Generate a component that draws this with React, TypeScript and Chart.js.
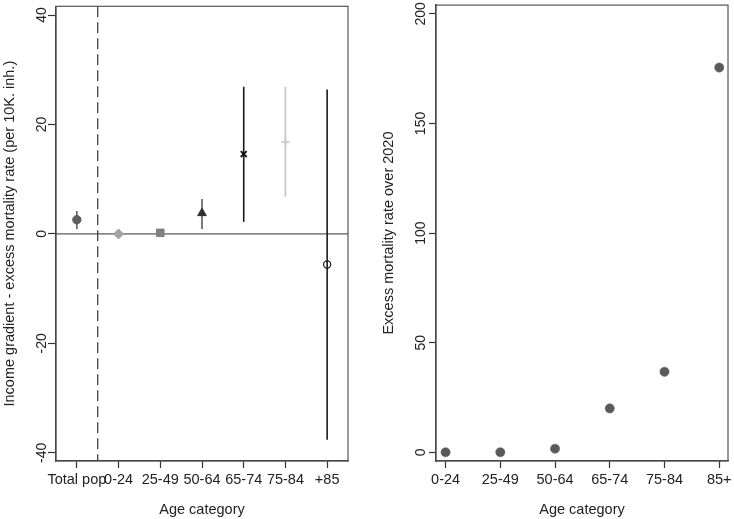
import React, { useEffect, useRef } from "react";
import { Chart, registerables } from "chart.js";

Chart.register(...registerables);

// ---------- Data ----------
const leftCategories = ["Total pop", "0-24", "25-49", "50-64", "65-74", "75-84", "+85"];
const leftEstimates = [2.6, 0, 0.2, 3.8, 14.6, 16.8, -5.6];
const leftLower = [0.9, -0.3, -0.1, 0.9, 2.2, 6.8, -37.6];
const leftUpper = [4.2, 0.3, 0.5, 6.4, 26.9, 26.9, 26.4];
const leftYTicks = [-40, -20, 0, 20, 40];

const rightCategories = ["0-24", "25-49", "50-64", "65-74", "75-84", "85+"];
const rightValues = [0, 0, 1.6, 20, 36.7, 175.5];
const rightYTicks = [0, 50, 100, 150, 200];

// ---------- Styles ----------
const FONT = "'Liberation Sans', Arial, Helvetica, sans-serif";
const TEXT = "#222222";
const AXIS = "#333333";
const TICK_SIZE = 14.5;
const leftPointStyles = ["circle", "rectRot", "rect", "triangle", "crossRot", "cross", "circle"];
const leftPointColors = ["#5f5f5f", "#a3a3a3", "#808080", "#303030", "#111111", "#c4c4c4", "#1a1a1a"];
const leftPointFill = ["#5f5f5f", "#a3a3a3", "#808080", "#303030", "#111111", "#c4c4c4", "rgba(0,0,0,0)"];
const leftPointRadius = [4.2, 5, 5.3, 5, 4.2, 4.2, 3.6];
const leftCIColors = ["#5f5f5f", "#a3a3a3", "#808080", "#5a5a5a", "#1a1a1a", "#c4c4c4", "#1a1a1a"];

const frameAndLabels = (opts: { gap: number; zeroLine: boolean; dashedX: number | null; ci: boolean }) => ({
  id: "frameAndLabels",
  beforeDatasetsDraw(chart: any) {
    const { ctx, chartArea: a, scales } = chart;
    const x = scales.x;
    const y = scales.y;
    ctx.save();
    if (opts.zeroLine) {
      const py = y.getPixelForValue(0);
      ctx.strokeStyle = AXIS;
      ctx.lineWidth = 1;
      ctx.beginPath();
      ctx.moveTo(a.left, py);
      ctx.lineTo(a.right, py);
      ctx.stroke();
    }
    if (opts.dashedX !== null) {
      const px = x.getPixelForValue(opts.dashedX);
      ctx.strokeStyle = AXIS;
      ctx.lineWidth = 1.2;
      ctx.setLineDash([11, 5]);
      ctx.beginPath();
      ctx.moveTo(px, a.top);
      ctx.lineTo(px, a.bottom);
      ctx.stroke();
      ctx.setLineDash([]);
    }
    if (opts.ci) {
      leftCategories.forEach((_, i) => {
        const px = x.getPixelForValue(i);
        ctx.strokeStyle = leftCIColors[i];
        ctx.lineWidth = 1.6;
        ctx.beginPath();
        ctx.moveTo(px, y.getPixelForValue(leftLower[i]));
        ctx.lineTo(px, y.getPixelForValue(leftUpper[i]));
        ctx.stroke();
      });
    }
    ctx.restore();
  },
  afterDraw(chart: any) {
    const { ctx, chartArea: a, scales } = chart;
    const y = scales.y;
    ctx.save();
    ctx.strokeStyle = "#555555";
    ctx.lineWidth = 1.2;
    ctx.strokeRect(a.left, a.top, a.right - a.left, a.bottom - a.top);
    // rotated y tick labels
    const tickLen = y.options.grid.tickLength;
    ctx.fillStyle = TEXT;
    ctx.font = `14px ${FONT}`;
    ctx.textAlign = "center";
    ctx.textBaseline = "alphabetic";
    y.ticks.forEach((t: any) => {
      const py = y.getPixelForValue(t.value);
      ctx.save();
      ctx.translate(a.left - tickLen - opts.gap, py);
      ctx.rotate(-Math.PI / 2);
      ctx.fillText(String(t.value), 0, 0);
      ctx.restore();
    });
    ctx.restore();
  },
});

function axisCommon() {
  return {
    grid: { drawOnChartArea: false, drawTicks: true, tickColor: AXIS, tickWidth: 1.2 },
    border: { display: true, color: AXIS, width: 1.3 },
  };
}

function LeftChart() {
  const ref = useRef<HTMLCanvasElement>(null);
  useEffect(() => {
    const chart = new Chart(ref.current as HTMLCanvasElement, {
      type: "scatter",
      data: {
        datasets: [
          {
            data: leftEstimates.map((v, i) => ({ x: i, y: v })),
            pointStyle: leftPointStyles as any,
            pointRadius: leftPointRadius,
            pointBackgroundColor: leftPointFill,
            pointBorderColor: leftPointColors,
            pointBorderWidth: [1, 1, 1, 1, 1.8, 1.6, 1.2],
          },
        ],
      },
      options: {
        animation: false,
        responsive: false,
        maintainAspectRatio: false,
        layout: { padding: { top: 4, right: 19, left: 0, bottom: 0 } },
        plugins: { legend: { display: false }, tooltip: { enabled: false } },
        scales: {
          x: {
            type: "linear",
            min: -0.5,
            max: 6.5,
            afterBuildTicks: (s: any) => {
              s.ticks = leftCategories.map((_, i) => ({ value: i }));
            },
            afterFit: (s: any) => {
              s.height = 58;
              s.paddingLeft = 0;
              s.paddingRight = 0;
            },
            ticks: {
              callback: (v: any) => leftCategories[v as number],
              font: { family: FONT, size: TICK_SIZE },
              color: TEXT,
              padding: 3,
              maxRotation: 0,
              minRotation: 0,
              autoSkip: false,
            },
            ...axisCommon(),
            grid: { ...axisCommon().grid, tickLength: 7 },
            title: {
              display: true,
              text: "Age category",
              font: { family: FONT, size: 14.5 },
              color: TEXT,
              padding: { top: 0, bottom: 0.5 },
            },
          },
          y: {
            min: -41.5,
            max: 41.6,
            afterBuildTicks: (s: any) => {
              s.ticks = leftYTicks.map((v) => ({ value: v }));
            },
            afterFit: (s: any) => {
              s.width = 56;
              s.paddingTop = 0;
              s.paddingBottom = 0;
            },
            ticks: { color: "rgba(0,0,0,0)", font: { family: FONT, size: 14 } },
            ...axisCommon(),
            grid: { ...axisCommon().grid, tickLength: 8 },
            title: {
              display: true,
              text: "Income gradient - excess mortality rate (per 10K. inh.)",
              font: { family: FONT, size: 14.5 },
              color: TEXT,
              padding: { top: 1, bottom: 0 },
            },
          },
        },
      },
      plugins: [frameAndLabels({ gap: 2, zeroLine: true, dashedX: 0.5, ci: true })],
    });
    return () => chart.destroy();
  }, []);
  return <canvas ref={ref} width={367} height={519} style={{ display: "block", width: 367, height: 519 }} />;
}

function RightChart() {
  const ref = useRef<HTMLCanvasElement>(null);
  useEffect(() => {
    const chart = new Chart(ref.current as HTMLCanvasElement, {
      type: "scatter",
      data: {
        datasets: [
          {
            data: rightValues.map((v, i) => ({ x: i, y: v })),
            pointStyle: "circle",
            pointRadius: 4.6,
            pointBackgroundColor: "#5a5a5a",
            pointBorderColor: "#5a5a5a",
            pointBorderWidth: 0.5,
          },
        ],
      },
      options: {
        animation: false,
        responsive: false,
        maintainAspectRatio: false,
        layout: { padding: { top: 4, right: 6, left: 0, bottom: 0 } },
        plugins: { legend: { display: false }, tooltip: { enabled: false } },
        scales: {
          x: {
            type: "linear",
            min: -0.175,
            max: 5.16,
            afterBuildTicks: (s: any) => {
              s.ticks = rightCategories.map((_, i) => ({ value: i }));
            },
            afterFit: (s: any) => {
              s.height = 58;
              s.paddingLeft = 0;
              s.paddingRight = 0;
            },
            ticks: {
              callback: (v: any) => rightCategories[v as number],
              font: { family: FONT, size: TICK_SIZE },
              color: TEXT,
              padding: 3,
              maxRotation: 0,
              minRotation: 0,
              autoSkip: false,
            },
            ...axisCommon(),
            grid: { ...axisCommon().grid, tickLength: 7 },
            title: {
              display: true,
              text: "Age category",
              font: { family: FONT, size: 14.5 },
              color: TEXT,
              padding: { top: 0, bottom: 0.5 },
            },
          },
          y: {
            min: -4,
            max: 204,
            afterBuildTicks: (s: any) => {
              s.ticks = rightYTicks.map((v) => ({ value: v }));
            },
            afterFit: (s: any) => {
              s.width = 69;
              s.paddingTop = 0;
              s.paddingBottom = 0;
            },
            ticks: { color: "rgba(0,0,0,0)", font: { family: FONT, size: 14 } },
            ...axisCommon(),
            grid: { ...axisCommon().grid, tickLength: 7 },
            title: {
              display: true,
              text: "Excess mortality rate over 2020",
              font: { family: FONT, size: 14.5 },
              color: TEXT,
              padding: { top: 13, bottom: 0 },
            },
          },
        },
      },
      plugins: [frameAndLabels({ gap: 4, zeroLine: false, dashedX: null, ci: false })],
    });
    return () => chart.destroy();
  }, []);
  return <canvas ref={ref} width={367} height={519} style={{ display: "block", width: 367, height: 519 }} />;
}

export default function App() {
  return (
    <div
      style={{
        position: "absolute",
        left: 0,
        top: 0,
        width: 734,
        height: 519,
        display: "flex",
        background: "#ffffff",
      }}
    >
      <LeftChart />
      <RightChart />
    </div>
  );
}
